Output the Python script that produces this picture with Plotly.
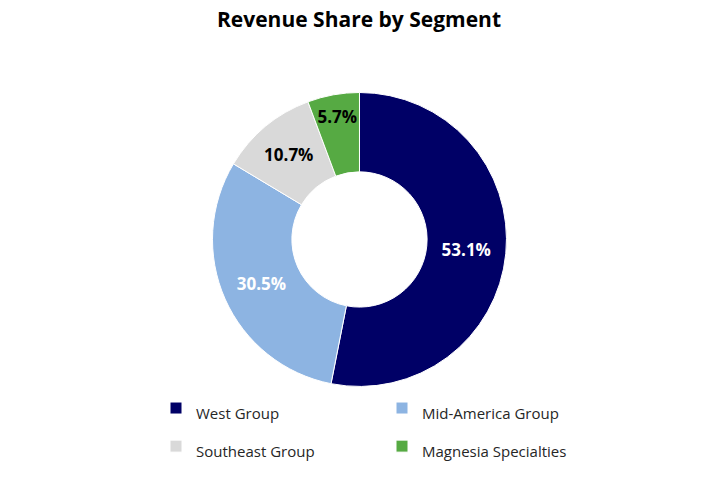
import plotly.graph_objects as go

segments = ["West Group", "Mid-America Group", "Southeast Group", "Magnesia Specialties"]
shares = [53.1, 30.5, 10.7, 5.7]
colors = ["#000066", "#8DB4E2", "#D9D9D9", "#56AA43"]
label_colors = ["white", "white", "black", "black"]

FONT = "Open Sans"
W, H = 720, 478

legend_labels = [f"<span style='font-size:15px'>{s}</span>" for s in segments]

fig = go.Figure(
    go.Pie(
        labels=legend_labels,
        values=shares,
        sort=False,
        direction="clockwise",
        rotation=0,
        hole=0.46,
        marker=dict(colors=colors, line=dict(color="white", width=1)),
        texttemplate="%{value:.1f}%",
        textposition="inside",
        insidetextorientation="horizontal",
        textfont=dict(family=FONT, size=17, color=label_colors, weight="bold"),
        domain=dict(x=[0.2163, 0.7817], y=[0.1915, 0.8065]),
        hovertext=segments,
        hoverinfo="text+percent",
    )
)

fig.update_layout(
    width=W,
    height=H,
    paper_bgcolor="white",
    plot_bgcolor="white",
    margin=dict(l=100, r=100, t=0, b=0),
    title=dict(
        text="<b>Revenue Share by Segment</b>",
        x=359 / W,
        xref="container",
        xanchor="center",
        y=1 - 20 / H,
        yref="container",
        yanchor="middle",
        font=dict(family=FONT, size=21, color="black"),
    ),
    uniformtext=dict(minsize=17, mode="show"),
    legend=dict(
        orientation="h",
        x=0.1077,
        xanchor="left",
        y=0.1967,
        yanchor="top",
        entrywidth=181,
        font=dict(family=FONT, size=27, color="#262626"),
        bgcolor="rgba(0,0,0,0)",
    ),
    showlegend=True,
)

fig.write_html(
    "out.html",
    config={"displayModeBar": False},
    post_script="document.body.style.margin='0';",
)
